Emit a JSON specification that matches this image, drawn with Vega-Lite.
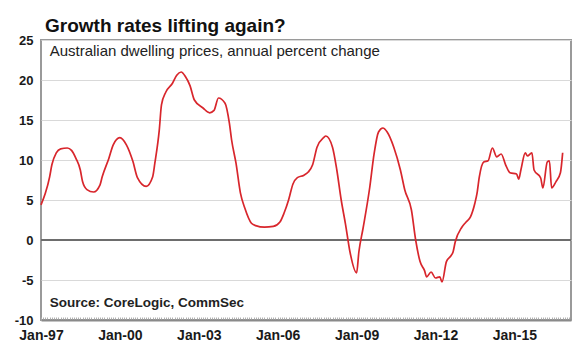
{
  "$schema": "https://vega.github.io/schema/vega-lite/v6.json",
  "width": 530,
  "height": 280,
  "autosize": {"type": "none"},
  "padding": {"left": 41, "top": 40, "right": 9, "bottom": 32},
  "background": "white",
  "title": {"text": "Growth rates lifting again?", "anchor": "start", "frame": "group", "dx": 4, "offset": -2, "font": "Liberation Sans", "fontSize": 19, "fontWeight": "bold", "color": "#111111"},
  "config": {
    "font": "Liberation Sans",
    "view": {"stroke": "#9a9a9a", "strokeWidth": 2},
    "axis": {"labelFont": "Liberation Sans", "labelFontWeight": "bold", "labelColor": "#1a1a1a", "title": null},
    "axisY": {"grid": true, "gridColor": "#d9d9d9", "gridWidth": 1, "ticks": false, "domain": false, "labelPadding": 8, "labelFontSize": 13, "labelOverlap": false},
    "axisX": {"grid": false, "domain": true, "domainColor": "#8a8a8a", "domainWidth": 2, "ticks": true, "tickColor": "#b0b0b0", "tickSize": -3, "labelFontSize": 14, "labelPadding": 11}
  },
  "data": {"values": [
    {"date": "1997-01-01", "value": 4.4},
    {"date": "1997-03-01", "value": 5.8},
    {"date": "1997-05-01", "value": 7.9},
    {"date": "1997-06-01", "value": 9.4},
    {"date": "1997-08-01", "value": 10.9},
    {"date": "1997-10-01", "value": 11.4},
    {"date": "1998-01-01", "value": 11.5},
    {"date": "1998-03-01", "value": 11.2},
    {"date": "1998-05-01", "value": 10.2},
    {"date": "1998-07-01", "value": 8.75},
    {"date": "1998-08-01", "value": 7.3},
    {"date": "1998-10-01", "value": 6.3},
    {"date": "1999-01-01", "value": 6.0},
    {"date": "1999-04-01", "value": 6.9},
    {"date": "1999-05-01", "value": 7.9},
    {"date": "1999-08-01", "value": 10.2},
    {"date": "1999-10-01", "value": 11.9},
    {"date": "2000-01-01", "value": 12.8},
    {"date": "2000-04-01", "value": 11.9},
    {"date": "2000-07-01", "value": 9.8},
    {"date": "2000-09-01", "value": 7.8},
    {"date": "2001-01-01", "value": 6.7},
    {"date": "2001-04-01", "value": 7.9},
    {"date": "2001-05-01", "value": 9.6},
    {"date": "2001-07-01", "value": 13.7},
    {"date": "2001-08-01", "value": 16.9},
    {"date": "2001-10-01", "value": 18.5},
    {"date": "2002-01-01", "value": 19.6},
    {"date": "2002-03-01", "value": 20.6},
    {"date": "2002-05-01", "value": 21.0},
    {"date": "2002-07-01", "value": 20.4},
    {"date": "2002-09-01", "value": 19.3},
    {"date": "2002-11-01", "value": 17.5},
    {"date": "2003-03-01", "value": 16.5},
    {"date": "2003-06-01", "value": 15.9},
    {"date": "2003-08-01", "value": 16.2},
    {"date": "2003-10-01", "value": 17.75},
    {"date": "2004-01-01", "value": 17.1},
    {"date": "2004-03-01", "value": 14.6},
    {"date": "2004-04-01", "value": 12.5},
    {"date": "2004-06-01", "value": 9.6},
    {"date": "2004-08-01", "value": 5.9},
    {"date": "2004-10-01", "value": 4.0},
    {"date": "2005-01-01", "value": 2.1},
    {"date": "2005-03-01", "value": 1.8},
    {"date": "2005-07-01", "value": 1.6},
    {"date": "2005-11-01", "value": 1.7},
    {"date": "2006-02-01", "value": 2.25},
    {"date": "2006-04-01", "value": 3.4},
    {"date": "2006-06-01", "value": 5.0},
    {"date": "2006-08-01", "value": 7.0},
    {"date": "2006-10-01", "value": 7.8},
    {"date": "2007-01-01", "value": 8.1},
    {"date": "2007-03-01", "value": 8.5},
    {"date": "2007-05-01", "value": 9.4},
    {"date": "2007-07-01", "value": 11.6},
    {"date": "2007-10-01", "value": 12.8},
    {"date": "2007-11-01", "value": 13.0},
    {"date": "2008-02-01", "value": 11.6},
    {"date": "2008-04-01", "value": 8.75},
    {"date": "2008-06-01", "value": 5.0},
    {"date": "2008-08-01", "value": 1.9},
    {"date": "2008-10-01", "value": -1.5},
    {"date": "2009-01-01", "value": -4.1},
    {"date": "2009-02-01", "value": -1.5},
    {"date": "2009-04-01", "value": 1.5},
    {"date": "2009-07-01", "value": 6.5},
    {"date": "2009-09-01", "value": 10.8},
    {"date": "2009-11-01", "value": 13.5},
    {"date": "2010-01-01", "value": 14.0},
    {"date": "2010-03-01", "value": 13.5},
    {"date": "2010-06-01", "value": 11.6},
    {"date": "2010-09-01", "value": 8.75},
    {"date": "2010-11-01", "value": 6.25},
    {"date": "2011-02-01", "value": 3.75},
    {"date": "2011-04-01", "value": 0.0},
    {"date": "2011-06-01", "value": -2.7},
    {"date": "2011-08-01", "value": -3.8},
    {"date": "2011-09-01", "value": -4.6},
    {"date": "2011-11-01", "value": -4.0},
    {"date": "2012-01-01", "value": -4.75},
    {"date": "2012-03-01", "value": -4.6},
    {"date": "2012-04-01", "value": -5.25},
    {"date": "2012-06-01", "value": -2.7},
    {"date": "2012-08-01", "value": -2.0},
    {"date": "2012-09-01", "value": -1.5},
    {"date": "2012-10-01", "value": -0.25},
    {"date": "2013-01-01", "value": 1.6},
    {"date": "2013-03-01", "value": 2.25},
    {"date": "2013-05-01", "value": 2.9},
    {"date": "2013-07-01", "value": 4.6},
    {"date": "2013-08-01", "value": 5.9},
    {"date": "2013-09-01", "value": 7.9},
    {"date": "2013-11-01", "value": 9.75},
    {"date": "2014-01-01", "value": 9.9},
    {"date": "2014-03-01", "value": 11.5},
    {"date": "2014-05-01", "value": 10.4},
    {"date": "2014-07-01", "value": 10.75},
    {"date": "2014-09-01", "value": 9.4},
    {"date": "2014-11-01", "value": 8.4},
    {"date": "2015-02-01", "value": 8.25},
    {"date": "2015-03-01", "value": 7.6},
    {"date": "2015-04-01", "value": 8.75},
    {"date": "2015-06-01", "value": 10.9},
    {"date": "2015-07-01", "value": 10.5},
    {"date": "2015-09-01", "value": 10.9},
    {"date": "2015-10-01", "value": 8.75},
    {"date": "2016-01-01", "value": 7.75},
    {"date": "2016-02-01", "value": 6.5},
    {"date": "2016-04-01", "value": 9.75},
    {"date": "2016-05-01", "value": 9.9},
    {"date": "2016-06-01", "value": 6.5},
    {"date": "2016-08-01", "value": 7.3},
    {"date": "2016-10-01", "value": 8.4},
    {"date": "2016-11-01", "value": 10.9}
  ]},
  "layer": [
    {
      "mark": {"type": "rule", "color": "#6e6e6e", "strokeWidth": 1.6},
      "encoding": {"y": {"datum": 0, "type": "quantitative", "title": null, "axis": {"values": [-10, -5, 0, 5, 10, 15, 20, 25], "labelExpr": "datum.value + ''"}}}
    },
    {
      "mark": {"type": "line", "color": "#d8262c", "strokeWidth": 1.7, "interpolate": "monotone"},
      "encoding": {
        "x": {
          "field": "date", "type": "temporal", "title": null,
          "scale": {"type": "utc", "domain": [{"year": 1997, "month": 1, "date": 1, "utc": true}, {"year": 2017, "month": 2, "date": 25, "utc": true}]},
          "axis": {
            "tickCount": {"interval": "month", "step": 1},
            "labelOverlap": false,
            "labelFlush": false,
            "labelBound": false,
            "labelExpr": "utcmonth(datum.value) == 0 && (utcyear(datum.value) - 1997) % 3 == 0 ? utcFormat(datum.value, '%b-%y') : ''"
          }
        },
        "y": {
          "field": "value", "type": "quantitative", "title": null,
          "scale": {"domain": [-10, 25], "nice": false},
          "axis": {"values": [-10, -5, 0, 5, 10, 15, 20, 25], "labelExpr": "datum.value + ''"}
        }
      }
    },
    {
      "data": {"values": [{}]},
      "mark": {"type": "text", "text": "Australian dwelling prices, annual percent change", "align": "left", "baseline": "alphabetic", "fontSize": 15, "font": "Liberation Sans", "color": "#222222"},
      "encoding": {
        "x": {"datum": {"year": 1997, "month": 5, "date": 1, "utc": true}, "type": "temporal"},
        "y": {"datum": 23, "type": "quantitative", "axis": {"values": [-10, -5, 0, 5, 10, 15, 20, 25], "labelExpr": "datum.value + ''"}}
      }
    },
    {
      "data": {"values": [{}]},
      "mark": {"type": "text", "text": "Source: CoreLogic, CommSec", "align": "left", "baseline": "alphabetic", "fontSize": 13.5, "fontWeight": "bold", "font": "Liberation Sans", "color": "#222222"},
      "encoding": {
        "x": {"datum": {"year": 1997, "month": 5, "date": 1, "utc": true}, "type": "temporal"},
        "y": {"datum": -8.4, "type": "quantitative", "axis": {"values": [-10, -5, 0, 5, 10, 15, 20, 25], "labelExpr": "datum.value + ''"}}
      }
    }
  ]
}
